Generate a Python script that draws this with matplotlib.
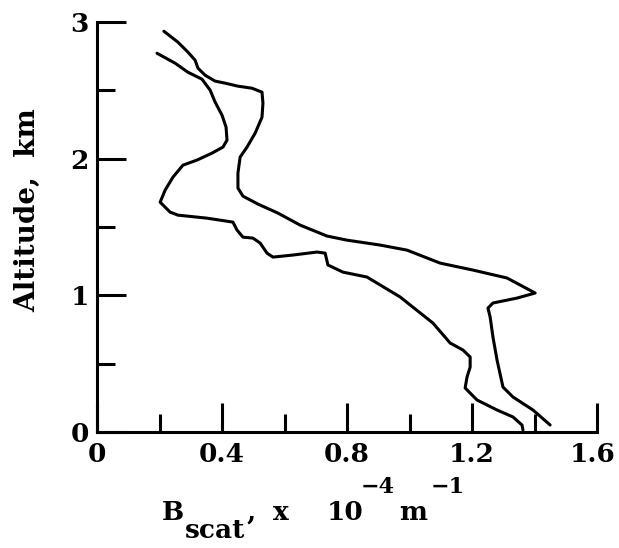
import numpy as np
import matplotlib
matplotlib.use("Agg")
import matplotlib.pyplot as plt
from matplotlib.ticker import FixedLocator
from matplotlib.transforms import ScaledTranslation

# Scattering coefficient profiles, 10^-4 m^-1 vs altitude in km
b_scat_a = [0.214, 0.259, 0.291, 0.314, 0.323, 0.346, 0.378, 0.410, 0.451, 0.496,
            0.528, 0.531, 0.528, 0.506, 0.480, 0.458, 0.451, 0.451, 0.467, 0.515,
            0.579, 0.650, 0.736, 0.800, 0.906, 0.992, 1.098, 1.203, 1.312, 1.402,
            1.344, 1.267, 1.251, 1.258, 1.267, 1.280, 1.299, 1.331, 1.395, 1.450]
alt_a = [2.933, 2.853, 2.780, 2.721, 2.663, 2.611, 2.568, 2.553, 2.531, 2.516,
         2.487, 2.407, 2.304, 2.187, 2.085, 2.012, 1.895, 1.785, 1.726, 1.668,
         1.602, 1.514, 1.434, 1.404, 1.368, 1.331, 1.236, 1.185, 1.127, 1.017,
         0.980, 0.944, 0.907, 0.841, 0.695, 0.527, 0.329, 0.256, 0.161, 0.051]

b_scat_b = [0.192, 0.250, 0.291, 0.336, 0.362, 0.378, 0.400, 0.413, 0.416, 0.403,
            0.368, 0.320, 0.275, 0.243, 0.218, 0.202, 0.234, 0.259, 0.352, 0.435,
            0.448, 0.467, 0.499, 0.522, 0.544, 0.563, 0.627, 0.704, 0.730, 0.739,
            0.787, 0.864, 0.970, 1.075, 1.130, 1.171, 1.194, 1.194, 1.184, 1.178,
            1.216, 1.280, 1.331, 1.360, 1.363]
alt_b = [2.772, 2.699, 2.633, 2.582, 2.502, 2.414, 2.319, 2.231, 2.136, 2.085,
         2.041, 1.990, 1.953, 1.865, 1.770, 1.682, 1.609, 1.587, 1.565, 1.536,
         1.478, 1.426, 1.419, 1.383, 1.309, 1.280, 1.295, 1.317, 1.309, 1.222,
         1.170, 1.134, 0.988, 0.797, 0.651, 0.600, 0.549, 0.475, 0.402, 0.322,
         0.234, 0.161, 0.110, 0.051, 0.015]

x_major = [0, 0.4, 0.8, 1.2, 1.6]
x_minor = [0.2, 0.6, 1.0, 1.4]
x_labels = ["0", "0.4", "0.8", "1.2", "1.6"]
y_major = [0, 1, 2, 3]
y_minor = [0.5, 1.5, 2.5]
y_labels = ["0", "1", "2", "3"]

font = dict(family="DejaVu Serif", weight="bold")

fig = plt.figure(figsize=(6.19, 5.48), dpi=100)
ax = fig.add_axes([0.1567, 0.2117, 0.8078, 0.748])

for xs, ys in [(b_scat_a, alt_a), (b_scat_b, alt_b)]:
    ax.plot(xs, ys, color="black", lw=2.2, solid_capstyle="round",
            solid_joinstyle="round", clip_on=False)

ax.set_xlim(0, 1.6)
ax.set_ylim(0, 3)
for s in ["top", "right"]:
    ax.spines[s].set_visible(False)
for s in ["left", "bottom"]:
    ax.spines[s].set_linewidth(2.2)

ax.xaxis.set_major_locator(FixedLocator(x_major))
ax.xaxis.set_minor_locator(FixedLocator(x_minor))
ax.yaxis.set_major_locator(FixedLocator(y_major))
ax.yaxis.set_minor_locator(FixedLocator(y_minor))
ax.set_xticklabels(x_labels, fontsize=19, **font)
ax.set_yticklabels(y_labels, fontsize=19, **font)
ax.tick_params(which="major", direction="in", length=21, width=2.2)
ax.tick_params(which="minor", direction="in", length=13, width=2.2)
ax.tick_params(axis="x", which="major", pad=7)
ax.tick_params(axis="y", which="major", pad=6)

# nudge the last x label left so "1.6" stays inside the figure
shift = ScaledTranslation(-4 / 100, 0, fig.dpi_scale_trans)
last = ax.get_xticklabels()[-1]
last.set_transform(last.get_transform() + shift)

tx = ax.transAxes
ax.text(-0.138, 0.541, "Altitude,  km", fontsize=20, rotation=90,
        ha="center", va="center", transform=tx, **font)

# axis title built from pieces so the sub/superscripts sit like the print
pieces = [
    (0.130, -0.2146, "B", 19),
    (0.176, -0.2585, "scat", 19),
    (0.300, -0.2146, ",", 19),
    (0.352, -0.2146, "x", 19),
    (0.460, -0.2146, "10", 19),
    (0.528, -0.1488, "\u22124", 16),
    (0.604, -0.2146, "m", 19),
    (0.668, -0.1488, "\u22121", 16),
]
for px, py, s, size in pieces:
    ax.text(px, py, s, fontsize=size, transform=tx, ha="left", va="baseline", **font)

fig.savefig("out.png", dpi=100)
